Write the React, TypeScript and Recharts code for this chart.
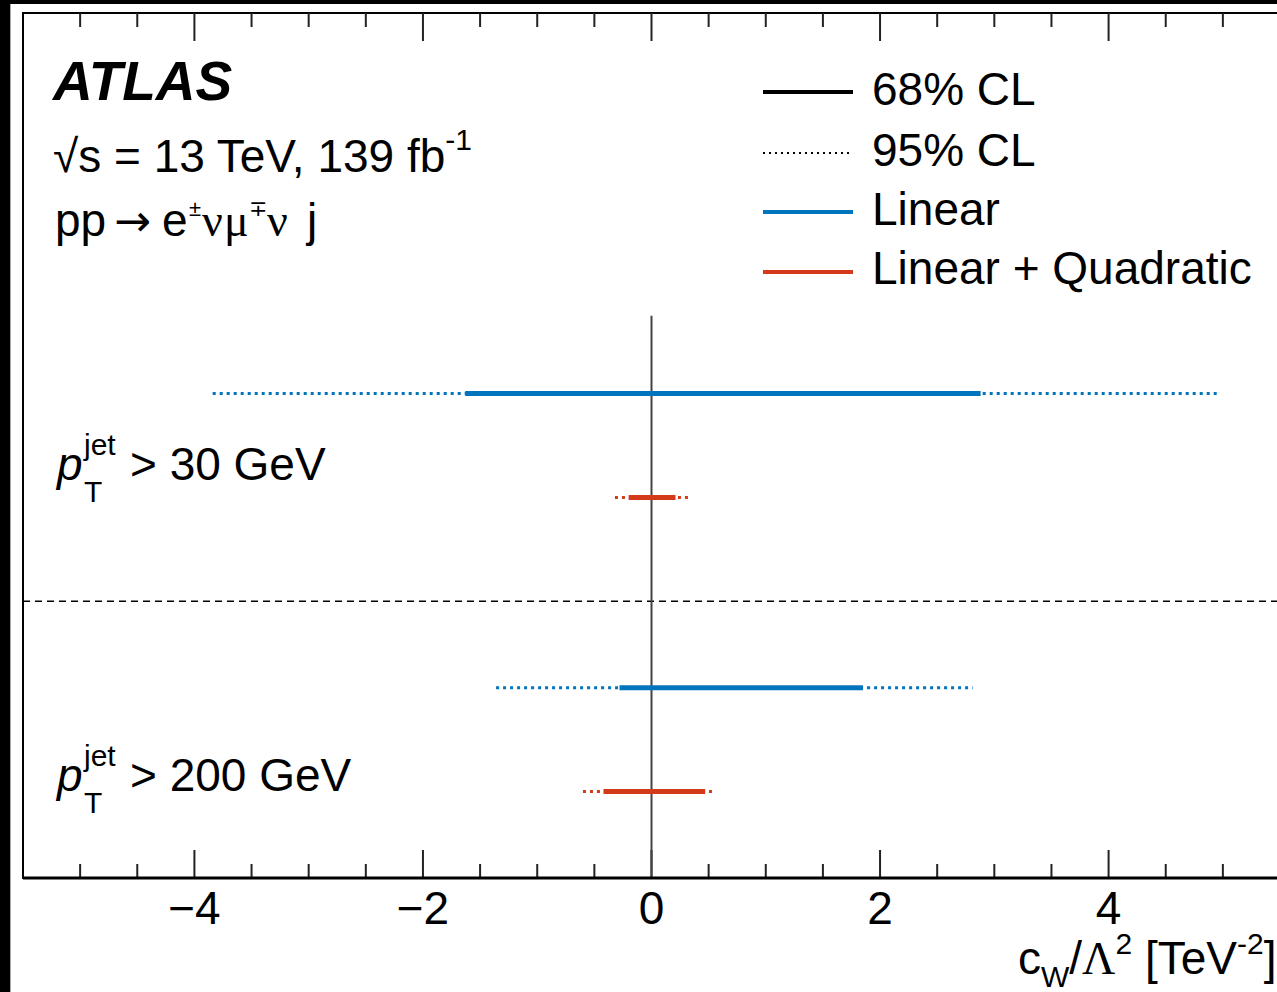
import React from 'react';
import {
  ComposedChart,
  XAxis,
  YAxis,
  Scatter,
  ReferenceLine,
  ReferenceArea,
} from 'recharts';

// ---- data ----
const ROW_NAMES = ['pT>30 Linear', 'pT>30 Linear+Quadratic', 'pT>200 Linear', 'pT>200 Linear+Quadratic'];
const ROW_Y = [5.6, 4.4, 2.2, 1.0];
const ROW_MODEL = ['linear', 'quad', 'linear', 'quad'];
const CL68_LO = [-1.63, -0.2, -0.28, -0.42];
const CL68_HI = [2.88, 0.21, 1.85, 0.47];
const CL95_LO = [-3.84, -0.32, -1.36, -0.6];
const CL95_HI = [4.97, 0.35, 2.81, 0.56];

const X_DOMAIN = [-5.5, 5.5];
const Y_DOMAIN = [0, 10];
const X_TICK_LABELS = [-4, -2, 0, 2, 4];
const MAJOR_TICKS = [-4, -2, 0, 2, 4];
const MINOR_TICKS = [-5, -4.5, -3.5, -3, -2.5, -1.5, -1, -0.5, 0.5, 1, 1.5, 2.5, 3, 3.5, 4.5, 5];
const SEPARATOR_Y = 3.2;
const ZERO_LINE_TOP = 6.5;

const LEGEND_LABELS = ['68% CL', '95% CL', 'Linear', 'Linear + Quadratic'];

// ---- styles ----
const BLUE = '#0074BC';
const RED = '#D23A1A';
const FONT = '"Liberation Sans", Arial, Helvetica, sans-serif';
const SERIF = '"Liberation Serif", "Times New Roman", serif';
const MINOR_LEN = 0.162;
const MAJOR_LEN = 0.324;

const EmptyShape = () => <g />;

export default function App() {
  const W = 1300;
  const H = 992;

  const segs: any[] = [];
  ROW_NAMES.forEach((name, i) => {
    const color = ROW_MODEL[i] === 'linear' ? BLUE : RED;
    segs.push(
      <Scatter
        key={name + '95'}
        name={name + ' 95%'}
        data={[
          { x: CL95_LO[i], y: ROW_Y[i] },
          { x: CL95_HI[i], y: ROW_Y[i] },
        ]}
        dataKey="y"
        fill={color}
        line={{ stroke: color, strokeWidth: 3, strokeDasharray: '3 4' }}
        shape={EmptyShape}
        isAnimationActive={false}
      />
    );
    segs.push(
      <Scatter
        key={name + '68'}
        name={name + ' 68%'}
        data={[
          { x: CL68_LO[i], y: ROW_Y[i] },
          { x: CL68_HI[i], y: ROW_Y[i] },
        ]}
        dataKey="y"
        fill={color}
        line={{ stroke: color, strokeWidth: 5 }}
        shape={EmptyShape}
        isAnimationActive={false}
      />
    );
  });

  const tickLines: any[] = [];
  MINOR_TICKS.forEach((t) => {
    tickLines.push(
      <ReferenceLine key={'mb' + t} segment={[{ x: t, y: Y_DOMAIN[0] }, { x: t, y: Y_DOMAIN[0] + MINOR_LEN }]} stroke="#222" strokeWidth={2} />
    );
    tickLines.push(
      <ReferenceLine key={'mt' + t} segment={[{ x: t, y: Y_DOMAIN[1] }, { x: t, y: Y_DOMAIN[1] - MINOR_LEN }]} stroke="#222" strokeWidth={2} />
    );
  });
  MAJOR_TICKS.forEach((t) => {
    tickLines.push(
      <ReferenceLine key={'Mb' + t} segment={[{ x: t, y: Y_DOMAIN[0] }, { x: t, y: Y_DOMAIN[0] + MAJOR_LEN }]} stroke="#222" strokeWidth={2} />
    );
    tickLines.push(
      <ReferenceLine key={'Mt' + t} segment={[{ x: t, y: Y_DOMAIN[1] }, { x: t, y: Y_DOMAIN[1] - MAJOR_LEN }]} stroke="#222" strokeWidth={2} />
    );
  });

  const legendY = [92, 153, 212, 272];
  const legendBase = [105, 166, 225, 284];
  const legendStroke = ['#000', '#000', BLUE, RED];
  const legendWidth = [4, 2, 4, 4];
  const legendDash = [undefined, '2 4', undefined, undefined];

  return (
    <div
      style={{
        position: 'fixed',
        left: 0,
        top: 0,
        width: 1277,
        height: 992,
        overflow: 'hidden',
        background: '#000',
      }}
    >
      <div style={{ position: 'absolute', left: 10, top: 4, right: 0, bottom: 0, background: '#fff', borderLeft: '1px solid #aaa' }} />
      <div style={{ position: 'absolute', left: 0, top: 0 }}>
        <ComposedChart width={W} height={H} margin={{ top: 13, left: 23, right: 20, bottom: 54 }}>
          <XAxis
            type="number"
            dataKey="x"
            domain={X_DOMAIN}
            allowDataOverflow
            ticks={X_TICK_LABELS}
            interval={0}
            height={60}
            tickSize={0}
            tickMargin={13}
            tickLine={false}
            axisLine={{ stroke: '#000', strokeWidth: 3 }}
            tick={{ fill: '#000', fontSize: 46, fontFamily: FONT }}
            tickFormatter={(v: number) => String(v).replace('-', '\u2212')}
          />
          <YAxis type="number" dataKey="y" domain={Y_DOMAIN} allowDataOverflow hide />
          <ReferenceArea
            x1={X_DOMAIN[0]}
            x2={X_DOMAIN[1]}
            y1={Y_DOMAIN[0]}
            y2={Y_DOMAIN[1]}
            fill="none"
            fillOpacity={0}
            stroke="#000"
            strokeWidth={2}
            ifOverflow="visible"
          />
          {tickLines}
          <ReferenceLine y={SEPARATOR_Y} stroke="#000" strokeWidth={1.5} strokeDasharray="7 5" />
          <ReferenceLine segment={[{ x: 0, y: Y_DOMAIN[0] }, { x: 0, y: ZERO_LINE_TOP }]} stroke="#444" strokeWidth={2} />
          {segs}
        </ComposedChart>
      </div>
      <svg
        width={1277}
        height={992}
        style={{ position: 'absolute', left: 0, top: 0, pointerEvents: 'none' }}
        fontFamily={FONT}
      >
        <text x={53} y={100} fontSize={55} fontWeight="bold" fontStyle="italic" fill="#000">
          ATLAS
        </text>
        <text x={53} y={172} fontSize={46} fill="#000">
          <tspan>√s = 13 TeV, 139 fb</tspan>
          <tspan fontSize={30} dy={-22}>-1</tspan>
        </text>
        <text y={236} fontSize={46} fill="#000">
          <tspan x={55}>pp</tspan>
          <tspan x={114} fontFamily='"DejaVu Sans", sans-serif' fontSize={44}>→</tspan>
          <tspan x={162}>e</tspan>
          <tspan x={189} fontSize={22} dy={-20}>±</tspan>
          <tspan x={202} fontFamily={SERIF} dy={20}>ν</tspan>
          <tspan x={224} fontFamily={SERIF}>μ</tspan>
          <tspan x={249} fontSize={22} dy={-20}>∓</tspan>
          <tspan x={267} fontFamily={SERIF} dy={20}>ν</tspan>
          <tspan x={307}>j</tspan>
        </text>

        {[480, 791].map((base, i) => (
          <g key={base}>
            <text x={57} y={base} fontSize={46} fontStyle="italic" fill="#000">p</text>
            <text x={84} y={base - 25} fontSize={30} fill="#000">jet</text>
            <text x={84} y={base + 22} fontSize={30} fill="#000">T</text>
            <text x={130} y={base} fontSize={46} fill="#000">{i === 0 ? '> 30 GeV' : '> 200 GeV'}</text>
          </g>
        ))}

        {LEGEND_LABELS.map((lab, i) => (
          <g key={lab}>
            <line
              x1={763}
              x2={853}
              y1={legendY[i]}
              y2={legendY[i]}
              stroke={legendStroke[i]}
              strokeWidth={legendWidth[i]}
              strokeDasharray={legendDash[i]}
            />
            <text x={872} y={legendBase[i]} fontSize={46} fill="#000">{lab}</text>
          </g>
        ))}

        <text x={1018} y={974} fontSize={46} fill="#000">
          <tspan>c</tspan>
          <tspan fontSize={30} dy={13}>W</tspan>
          <tspan dy={-13}>/</tspan>
          <tspan fontFamily={SERIF}>Λ</tspan>
          <tspan fontSize={30} dy={-20}>2</tspan>
          <tspan dy={20}> [TeV</tspan>
          <tspan fontSize={30} dy={-20}>-2</tspan>
          <tspan dy={20}>]</tspan>
        </text>
      </svg>
    </div>
  );
}
